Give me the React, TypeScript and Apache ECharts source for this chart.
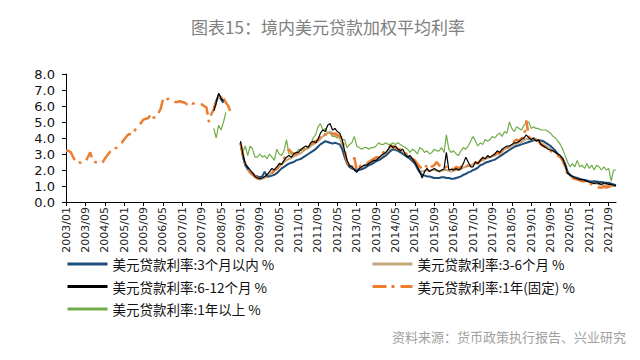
import React, { useEffect, useRef } from "react";
import * as echarts from "echarts";

// ---- categories: monthly, 2003/01 .. 2021/12 ----
const startYear = 2003;
const endYear = 2021;
const months: string[] = [];
for (let y = startYear; y <= endYear; y++) {
  for (let m = 1; m <= 12; m++) months.push(`${y}/${m < 10 ? "0" + m : m}`);
}

const seriesNames = [
  "美元贷款利率:3个月以内 %",
  "美元贷款利率:3-6个月 %",
  "美元贷款利率:6-12个月 %",
  "美元贷款利率:1年(固定) %",
  "美元贷款利率:1年以上 %",
];

// ---- 2008 short segments (2008/02 ..) ----
const usd3m2008 = [5.8, 6.3, 6.7, 6.4, 6.2];
const usd36m2008 = [5.9, 6.3, 6.6, 6.6, 6.3];
const usd612m2008 = [5.7, 6.2, 6.8, 6.5, 6.3];
const usdOver1y2008 = [4.6, 4.0, 4.8, 4.5, 5.0, 5.6];

// 1年(固定): 2003/01 .. 2008/09
const usd1yFixedEarly = [
  3.2, 3.2, 3.1, 2.8, 2.5, 2.5, 2.45, 2.45, 2.5, 2.8, 3.1, 2.6,
  2.5, 2.45, 2.4, 2.45, 2.7, 2.9, 3.1, 3.3, 3.35, 3.4, 3.6, 3.7,
  3.9, 4.1, 4.25, 4.2, 4.4, 4.6, 4.75, 4.95, 5.15, 5.2, 5.25, 5.5,
  5.3, 5.25, 5.5, 5.8, 6.4, 6.3, 6.45, 6.45, 6.35, 6.25, 6.25, 6.3,
  6.25, 6.2, 6.1, 6.2, 6.15, 6.15, 6.15, 6.1, 6.1, 6.0, 5.9, 5.0,
  5.5, 5.8, 6.2, 6.5, 6.7, 6.5, 6.2, 6.0, 5.6,
];

// ---- 2009/01 .. 2021/12 ----
const usd3m = [
  3.7, 2.9, 2.3, 2.1, 1.9, 1.8, 1.65, 1.6, 1.55, 1.6, 1.9, 1.6,
  1.6, 1.65, 1.7, 1.8, 1.95, 2.1, 2.2, 2.3, 2.4, 2.45, 2.5, 2.6,
  2.65, 2.7, 2.8, 2.9, 3.0, 3.1, 3.2, 3.3, 3.45, 3.6, 3.7, 3.8,
  3.75, 3.7, 3.65, 3.7, 3.65, 3.6, 3.3, 2.8, 2.4, 2.2, 2.1, 2.05,
  1.95, 2.0, 2.05, 2.1, 2.2, 2.3, 2.35, 2.45, 2.55, 2.6, 2.7, 2.8,
  2.9, 3.05, 3.2, 3.3, 3.25, 3.2, 3.1, 3.0, 2.9, 2.8, 2.7, 2.55,
  2.4, 2.1, 1.85, 1.7, 1.65, 1.6, 1.6, 1.55, 1.5, 1.5, 1.5, 1.55,
  1.55, 1.5, 1.5, 1.45, 1.45, 1.5, 1.55, 1.6, 1.7, 1.75, 1.85, 1.9,
  2.0, 2.05, 2.15, 2.3, 2.35, 2.45, 2.5, 2.55, 2.6, 2.65, 2.75, 2.85,
  2.95, 3.05, 3.15, 3.25, 3.35, 3.45, 3.5, 3.55, 3.6, 3.65, 3.7, 3.75,
  3.8, 3.85, 3.9, 3.85, 3.85, 3.8, 3.7, 3.6, 3.5, 3.35, 3.2, 3.0,
  2.85, 2.7, 2.4, 1.9, 1.7, 1.6, 1.55, 1.5, 1.45, 1.4, 1.38, 1.35,
  1.3, 1.28, 1.3, 1.28, 1.25, 1.25, 1.22, 1.2, 1.2, 1.15, 1.1, 1.05,
];

const usd36m = [
  3.7, 2.8, 2.3, 2.0, 1.8, 1.7, 1.55, 1.45, 1.4, 1.45, 1.55, 1.6,
  1.7, 1.85, 1.95, 2.05, 2.2, 2.35, 2.5, 2.6, 2.7, 2.75, 2.85, 2.9,
  3.0, 3.05, 3.2, 3.3, 3.35, 3.5, 3.6, 3.7, 3.8, 3.95, 4.1, 4.2,
  4.3, 4.4, 4.3, 4.2, 4.1, 4.0, 3.6, 2.9, 2.5, 2.2, 2.1, 2.1,
  2.0, 2.1, 2.15, 2.25, 2.35, 2.4, 2.5, 2.6, 2.65, 2.75, 2.85, 2.95,
  3.05, 3.25, 3.4, 3.45, 3.4, 3.3, 3.2, 3.1, 3.0, 2.9, 2.8, 2.65,
  2.5, 2.2, 1.95, 1.9, 1.95, 2.0, 1.95, 2.0, 2.0, 1.95, 1.9, 1.95,
  2.0, 2.0, 1.95, 1.9, 1.95, 2.0, 2.0, 2.05, 2.15, 2.2, 2.25, 2.3,
  2.35, 2.4, 2.45, 2.55, 2.6, 2.7, 2.75, 2.8, 2.85, 2.9, 3.0, 3.1,
  3.2, 3.3, 3.4, 3.45, 3.55, 3.6, 3.65, 3.7, 3.75, 3.85, 3.95, 3.9,
  3.95, 4.0, 3.9, 3.8, 3.7, 3.6, 3.5, 3.4, 3.3, 3.2, 3.1, 2.95,
  2.8, 2.6, 2.2, 1.8, 1.65, 1.55, 1.5, 1.45, 1.4, 1.35, 1.3, 1.3,
  1.25, 1.2, 1.2, 1.15, 1.1, 1.1, 1.05, 1.05, 1.0, 1.0, 1.0, 1.0,
];

const usd612m = [
  3.8, 3.0, 2.4, 2.2, 2.0, 1.8, 1.6, 1.5, 1.45, 1.5, 1.6, 1.7,
  1.9, 2.1, 2.0, 2.2, 2.4, 2.35, 2.6, 2.8, 2.9, 2.8, 3.0, 3.1,
  3.1, 3.3, 3.4, 3.5, 3.4, 3.7, 3.8, 3.7, 3.9, 4.3, 4.5, 4.4,
  4.8, 4.9, 4.5, 4.6, 4.4, 4.3, 3.9, 3.2, 2.6, 2.3, 2.2, 2.0,
  1.85, 2.1, 2.2, 2.3, 2.3, 2.4, 2.5, 2.6, 2.6, 2.75, 2.9, 3.0,
  3.1, 3.3, 3.55, 3.4, 3.5, 3.3, 3.2, 3.3, 3.0, 2.8, 2.9, 2.7,
  2.5, 2.2, 1.9, 1.5, 1.9, 2.1, 1.9, 2.0, 2.1, 2.0, 1.9, 2.0,
  2.05, 3.1, 2.0, 2.05, 2.0, 2.1, 2.0, 2.1, 2.4, 2.8, 2.5, 2.2,
  2.2, 2.5, 2.4, 2.6, 2.8, 2.7, 2.9, 2.8, 2.9, 3.0, 3.2, 3.1,
  3.3, 3.4, 3.5, 3.5, 3.6, 3.7, 3.7, 3.8, 3.9, 4.0, 4.2, 4.0,
  3.9, 4.0, 3.8, 3.9, 3.6, 3.5, 3.4, 3.3, 3.25, 3.2, 3.1, 3.0,
  2.9, 2.7, 2.3, 1.8, 1.7, 1.6, 1.5, 1.45, 1.4, 1.4, 1.35, 1.3,
  1.25, 1.2, 1.15, 1.2, 1.15, 1.1, 1.2, 1.15, 1.1, 1.1, 1.05, 1.0,
];

const usd1yFixed = [
  3.7, 3.0, 2.4, 2.1, 1.9, 1.7, 1.6, 1.5, 1.45, 1.5, 1.55, 1.6,
  1.7, 1.8, 2.0, 2.1, 2.3, 2.5, 2.7, 3.0, 3.3, 3.1, 3.0, 3.0,
  3.1, 3.2, 3.3, 3.4, 3.5, 3.6, 3.7, 3.8, 3.9, 4.1, 4.3, 4.2,
  4.3, 4.4, 4.2, 4.3, 4.2, 4.1, 4.0, 3.2, 2.5, 2.2, 2.1, 2.8,
  2.0, 2.2, 2.3, 2.4, 2.4, 2.5, 2.6, 2.7, 2.8, 2.8, 3.0, 3.1,
  3.2, 3.4, 3.5, 3.5, 3.4, 3.3, 3.3, 3.2, 3.1, 2.9, 2.8, 2.7,
  2.6, 2.4, 2.2, 2.1, 2.3, 2.2, 2.4, 2.2, 2.3, 2.5, 2.3, 2.2,
  2.1, 2.2, 2.3, 2.1, 2.0, 2.2, 2.1, 2.2, 2.3, 2.2, 2.3, 2.4,
  2.3, 2.5, 2.4, 2.6, 2.7, 2.6, 2.8, 2.9, 2.8, 3.0, 3.1, 3.0,
  3.2, 3.4, 3.3, 3.5, 3.6, 3.8, 3.9, 3.8, 4.0, 4.0, 5.1, 4.1,
  3.9, 3.8, 3.9, 3.8, 3.6, 3.5, 3.4, 3.3, 3.2, 3.1, 3.0, 2.9,
  2.8, 2.6, 2.2, 1.7, 1.6, 1.5, 1.45, 1.4, 1.35, 1.3, 1.3, 1.25,
  1.2, 1.1, 1.05, 1.0, 0.9, 0.9, 0.95, 0.9, 0.95, 1.0, 1.0, 1.05,
];

const usdOver1y = [
  3.7, 3.1, 3.5, 2.9, 3.5, 3.3, 2.8, 2.8, 3.0, 2.8, 2.9, 2.7,
  3.0, 2.8, 2.6, 3.3, 3.0, 2.9, 3.2, 3.9, 3.0, 3.0, 3.1, 3.0,
  3.3, 3.2, 3.4, 3.3, 3.5, 3.6, 4.0, 4.2, 4.7, 4.9, 4.5, 4.6,
  4.3, 4.3, 4.1, 4.1, 4.0, 4.1, 3.9, 3.9, 3.4, 3.6, 3.7, 4.1,
  3.5, 3.4, 3.3, 3.4, 3.4, 3.3, 3.4, 3.4, 3.5, 3.7, 3.6, 3.6,
  3.7, 3.6, 3.6, 3.7, 3.6, 3.7, 3.6, 3.5, 3.4, 3.3, 3.1, 3.3,
  3.2, 3.0, 3.4, 3.3, 3.1, 3.2, 3.0, 3.1, 3.3, 3.2, 3.2, 3.4,
  3.1, 4.2, 3.3, 3.1, 3.2, 3.0, 2.9, 3.2, 3.4, 3.3, 3.5, 3.8,
  4.1, 3.8, 3.5, 3.7, 3.6, 3.9, 3.8, 3.9, 4.1, 4.0, 4.2, 4.3,
  4.1, 4.4, 4.3, 5.0, 4.6, 4.4, 4.7, 4.6, 4.5, 4.8, 4.9, 5.0,
  4.6, 4.7, 4.6, 4.6, 4.5, 4.5, 4.5, 4.4, 4.3, 4.1, 4.0, 3.8,
  3.6, 3.3, 2.9, 2.5, 2.2, 2.4, 2.2, 2.6, 2.2, 2.3, 2.1, 2.4,
  2.1, 2.3, 2.0, 2.3, 2.2, 2.0, 2.2, 2.0, 2.1, 1.3, 2.0, 2.0,
];

const yTicks = [0, 1, 2, 3, 4, 5, 6, 7, 8];

const gap = (n: number) => new Array(n).fill(null);
const idx2008Feb = months.indexOf("2008/02");
const idx2009Jan = months.indexOf("2009/01");

function build(seg2008: number[], rest: number[]) {
  return [
    ...gap(idx2008Feb),
    ...seg2008,
    ...gap(idx2009Jan - idx2008Feb - seg2008.length),
    ...rest,
  ];
}

const data3m = build(usd3m2008, usd3m);
const data36m = build(usd36m2008, usd36m);
const data612m = build(usd612m2008, usd612m);
const dataOver1y = build(usdOver1y2008, usdOver1y);
const data1yFixed = [
  ...usd1yFixedEarly,
  ...gap(idx2009Jan - usd1yFixedEarly.length),
  ...usd1yFixed,
];

const colors = ["#1F4E79", "#C4A67C", "#000000", "#ED7D31", "#70AD47"];

export default function App() {
  const ref = useRef<HTMLDivElement>(null);
  useEffect(() => {
    if (!ref.current) return;
    const chart = echarts.init(ref.current, undefined, { renderer: "svg" });
    const legendCommon = {
      orient: "vertical",
      top: 249,
      padding: 0,
      itemWidth: 40,
      itemHeight: 14,
      itemGap: 8.5,
      textStyle: {
        fontFamily: "Noto Sans CJK SC",
        fontSize: 13.5,
        lineHeight: 14,
        color: "#111",
      },
      itemStyle: {
        opacity: 0,
        color: "rgba(0,0,0,0)",
        borderColor: "rgba(0,0,0,0)",
        borderWidth: 0,
      },
      lineStyle: { width: 3 },
    };
    chart.setOption({
      animation: false,
      backgroundColor: "#ffffff",
      title: {
        text: "图表15：境内美元贷款加权平均利率",
        left: "center",
        top: 5,
        textStyle: {
          fontFamily: "Noto Sans CJK SC",
          fontSize: 17,
          fontWeight: "normal",
          color: "#7f7f7f",
        },
      },
      graphic: [
        {
          type: "text",
          right: 22,
          top: 322,
          style: {
            text: "资料来源：货币政策执行报告、兴业研究",
            fontFamily: "Noto Sans CJK SC",
            fontSize: 13,
            fill: "#a0a0a0",
          },
        },
      ],
      legend: [
        {
          ...legendCommon,
          left: 58,
          data: [seriesNames[0], seriesNames[2], seriesNames[4]],
        },
        {
          ...legendCommon,
          left: 363,
          data: [seriesNames[1], seriesNames[3]],
        },
      ],
      grid: { left: 58, right: 32, top: 66, bottom: 166, containLabel: false },
      xAxis: {
        type: "category",
        data: months,
        boundaryGap: false,
        axisLine: { lineStyle: { color: "#000", width: 1 } },
        axisTick: { interval: 7, length: 4, lineStyle: { color: "#000" } },
        axisLabel: {
          interval: 7,
          rotate: 90,
          fontFamily: "DejaVu Sans",
          fontSize: 11,
          color: "#222",
          margin: 5,
        },
        splitLine: { show: false },
      },
      yAxis: {
        type: "value",
        min: yTicks[0],
        max: yTicks[yTicks.length - 1],
        interval: 1,
        axisLine: { show: true, lineStyle: { color: "#000", width: 1 } },
        axisTick: { show: true, length: 4, lineStyle: { color: "#000" } },
        axisLabel: {
          formatter: (v: number) => v.toFixed(1),
          fontFamily: "DejaVu Sans",
          fontSize: 13,
          color: "#111",
          margin: 11,
        },
        splitLine: { show: false },
      },
      series: [
        {
          name: seriesNames[1],
          type: "line",
          data: data36m,
          symbol: "none",
          lineStyle: { color: colors[1], width: 2 },
          itemStyle: { color: colors[1] },
          z: 2,
        },
        {
          name: seriesNames[0],
          type: "line",
          data: data3m,
          symbol: "none",
          lineStyle: { color: colors[0], width: 2 },
          itemStyle: { color: colors[0] },
          z: 3,
        },
        {
          name: seriesNames[4],
          type: "line",
          data: dataOver1y,
          symbol: "none",
          lineStyle: { color: colors[4], width: 1.2 },
          itemStyle: { color: colors[4] },
          z: 1,
        },
        {
          name: seriesNames[3],
          type: "line",
          data: data1yFixed,
          symbol: "none",
          lineStyle: { color: colors[3], width: 2.5, type: [14, 5, 3, 6] },
          itemStyle: { color: colors[3] },
          z: 4,
        },
        {
          name: seriesNames[2],
          type: "line",
          data: data612m,
          symbol: "none",
          lineStyle: { color: colors[2], width: 1.2 },
          itemStyle: { color: colors[2] },
          z: 5,
        },
      ],
    });
    return () => chart.dispose();
  }, []);
  return <div ref={ref} style={{ width: 640, height: 360 }} />;
}
